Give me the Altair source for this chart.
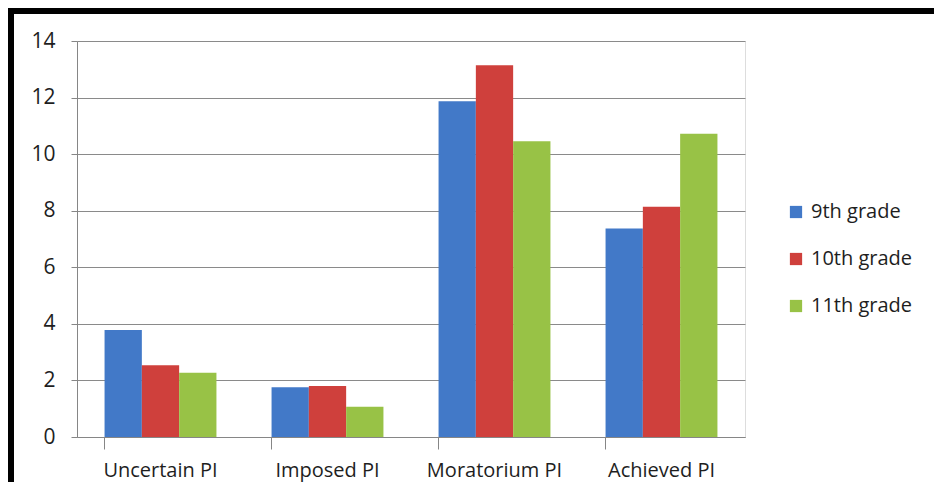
import altair as alt
import pandas as pd

categories = ["Uncertain PI", "Imposed PI", "Moratorium PI", "Achieved PI"]
series = ["9th grade", "10th grade", "11th grade"]
values_9th = [3.78, 1.76, 11.87, 7.37]
values_10th = [2.54, 1.80, 13.14, 8.14]
values_11th = [2.27, 1.07, 10.46, 10.72]
colors = ["#4279c8", "#cf403c", "#98c246"]
y_ticks = [0, 2, 4, 6, 8, 10, 12, 14]

rows = []
for s, vals in zip(series, [values_9th, values_10th, values_11th]):
    for c, v in zip(categories, vals):
        rows.append({"category": c, "grade": s, "value": v})
df = pd.DataFrame(rows)

W, H = 668, 396
FONT = "Open Sans"
TXT = "#1e1e1e"

bars = alt.Chart(df).mark_bar().encode(
    x=alt.X("category:N", sort=categories, title=None,
            scale=alt.Scale(paddingInner=0.33, paddingOuter=0.165),
            axis=alt.Axis(labelAngle=0, bandPosition=0, tickSize=12, labelPadding=11,
                          domainColor="#868686", tickColor="#868686", grid=False,
                          labelFontSize=20, labelColor=TXT, labelFont=FONT)),
    xOffset=alt.XOffset("grade:N", sort=series),
    y=alt.Y("value:Q", title=None,
            scale=alt.Scale(domain=[0, 14], nice=False),
            axis=alt.Axis(values=y_ticks, tickSize=6, labelPadding=16,
                          domainColor="#868686", tickColor="#868686",
                          gridColor="#8a8a8a", gridWidth=1,
                          labelFontSize=21, labelColor=TXT, labelFont=FONT)),
    color=alt.Color("grade:N", sort=series,
                    scale=alt.Scale(domain=series, range=colors),
                    legend=alt.Legend(title=None, orient="none", legendX=709, legendY=161,
                                      symbolType="square", symbolSize=150,
                                      symbolStrokeWidth=0, labelFontSize=20,
                                      labelFont=FONT, labelColor=TXT,
                                      rowPadding=27, labelOffset=5)),
)

frame_df = pd.DataFrame({"k": [0]})
frame = alt.Chart(frame_df).mark_rect(fill=None, stroke="black", strokeWidth=6, clip=False).encode(
    x=alt.value(-66), x2=alt.value(W + 400),
    y=alt.value(-30), y2=alt.value(H + 200),
)

chart = alt.layer(bars, frame).properties(
    width=W, height=H,
    autosize=alt.AutoSizeParams(type="none"),
    padding={"left": 69, "top": 33, "right": 189, "bottom": 45},
).configure_view(stroke=None).configure(background="white")

chart.save("out.html", embed_options={"renderer": "svg", "actions": False})
